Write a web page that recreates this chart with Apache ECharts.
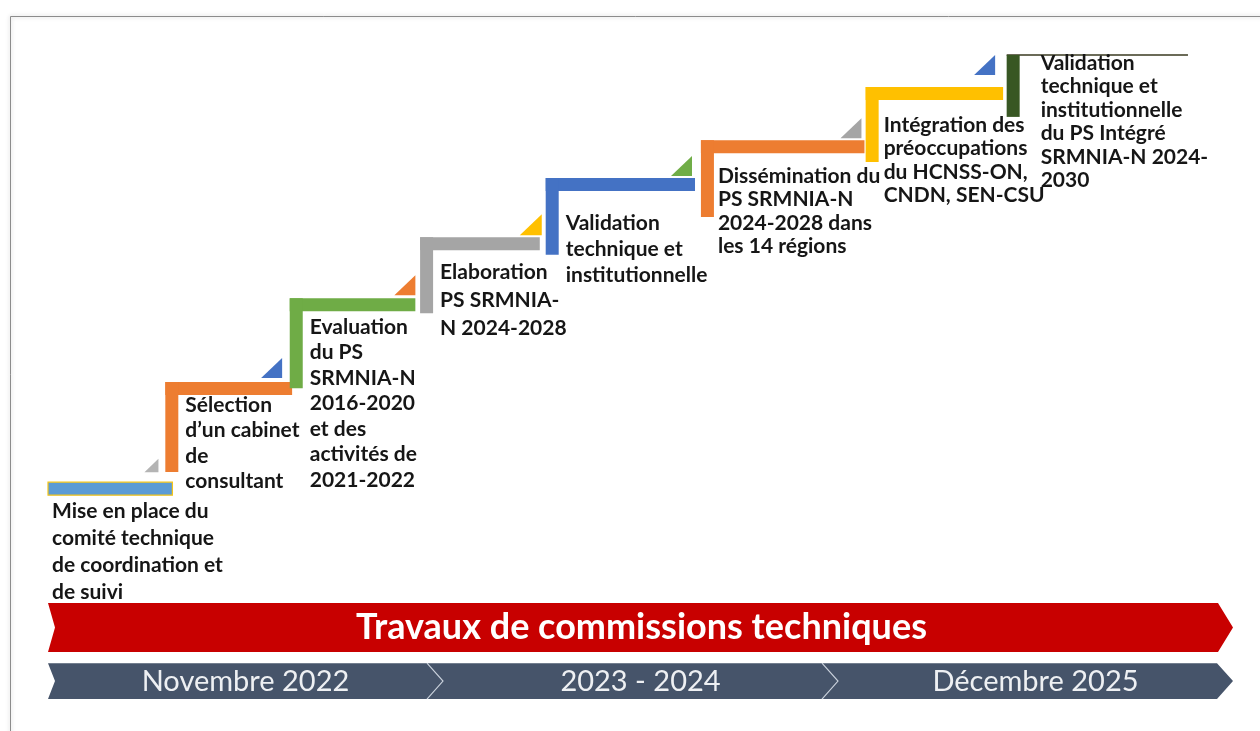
<!DOCTYPE html>
<html>
<head>
<meta charset="utf-8">
<script src="https://cdn.jsdelivr.net/npm/echarts@6/dist/echarts.min.js"></script>
<style>
html, body { margin: 0; padding: 0; background: #fff; }
#container { width: 1260px; height: 731px; }
</style>
</head>
<body>
<div id="container"></div>
<script>
// les étapes de l'escalier
var stepLabels = [
    'Mise en place du\ncomité technique\nde coordination et\nde suivi',
    'Sélection\nd\u2019un cabinet\nde\nconsultant',
    'Evaluation\ndu PS\nSRMNIA-N\n2016-2020\net des\nactivités de\n2021-2022',
    'Elaboration\nPS SRMNIA-\nN 2024-2028',
    'Validation\ntechnique et\ninstitutionnelle',
    'Dissémination du\nPS SRMNIA-N\n2024-2028 dans\nles 14 régions',
    'Intégration des\npréoccupations\ndu HCNSS-ON,\nCNDN, SEN-CSU',
    'Validation\ntechnique et\ninstitutionnelle\ndu PS Intégré\nSRMNIA-N 2024-\n2030'
];
// avancement sur la frise (%) : début et fin de chaque marche
var stepStart = [0, 9.9, 20.4, 31.4, 42.0, 55.1, 69.0, 80.9];
var stepEnd = [10.5, 20.6, 31.0, 41.5, 54.6, 68.9, 80.6, 96.2];
// hauteur de chaque marche (%)
var stepLevel = [2.7, 25.5, 44.6, 58.5, 72.0, 80.6, 92.7, 100];
// hauteur de la contremarche (%)
var stepRiser = [0, 20.5, 20.5, 17.3, 17.5, 17.5, 17.1, 14.1];

var bannerTitle = 'Travaux de commissions techniques';
var periods = ['Novembre 2022', '2023 - 2024', 'Décembre 2025'];

// couleurs
var stepColors = ['#5B9BD5', '#ED7D31', '#6FAC46', '#A5A5A5', '#4472C4', '#ED7D31', '#FFC000', '#385723'];
var markColors = ['#B4B4B4', '#4472C4', '#ED7D31', '#FFC000', '#70AD47', '#A5A5A5', '#4472C4'];

// mise en page des petits triangles et des textes (px)
var markDx = [-14, -10, 0, 2, -3, -3, -8];
var markDy = [-10, -4, -3, -2, -2, -2, -12];
var markSize = [14, 21, 21, 22, 21, 21, 21];
var labelDx = [4, 20, 20, 20, 20, 17, 18, 34];
var labelDy = [15.5, 10, 16, 21, 32, 24, 26, -4];
var labelLH = [27, 25.5, 25.5, 28, 26, 23.5, 23.5, 23.5];

var stepData = [];
for (var i = 0; i < stepLabels.length; i++) {
    stepData.push([stepStart[i], stepEnd[i], stepLevel[i], stepRiser[i]]);
}

var BAR = 13;

function renderStep(params, api) {
    var i = params.dataIndex;
    var top = api.coord([api.value(0), api.value(2)]);
    var end = api.coord([api.value(1), api.value(2)]);
    var foot = api.coord([api.value(0), api.value(2) - api.value(3)]);
    var children = [];
    var last = i === stepLabels.length - 1;

    // marche
    children.push({
        type: 'rect',
        shape: { x: top[0], y: last ? top[1] - 1 : top[1], width: end[0] - top[0], height: last ? 2 : BAR },
        style: {
            fill: last ? '#6B6B58' : stepColors[i],
            stroke: i === 0 ? '#F5C518' : null,
            lineWidth: 1.2
        }
    });
    // contremarche
    if (api.value(3) > 0) {
        children.push({
            type: 'rect',
            shape: { x: top[0], y: top[1], width: BAR, height: foot[1] - top[1] },
            style: { fill: stepColors[i] }
        });
    }
    // triangle
    if (!last) {
        var r = end[0] + markDx[i];
        var b = top[1] + markDy[i];
        var s = markSize[i];
        children.push({
            type: 'polygon',
            shape: { points: [[r - s, b], [r, b], [r, b - s * 0.95]] },
            style: { fill: markColors[i] }
        });
    }
    // texte
    children.push({
        type: 'text',
        x: top[0] + labelDx[i],
        y: top[1] + labelDy[i],
        style: {
            text: stepLabels[i],
            fill: '#161616',
            fontFamily: 'Lato',
            fontWeight: 'bold',
            fontSize: 21,
            lineHeight: labelLH[i],
            align: 'left',
            verticalAlign: 'top'
        }
    });
    return { type: 'group', children: children };
}

function renderTitle(params, api) {
    var p0 = api.coord([api.value(0), 100]);
    var p1 = api.coord([api.value(1), 49.5]);
    var mid = (p0[1] + p1[1]) / 2;
    return {
        type: 'group',
        children: [{
            type: 'polygon',
            shape: { points: [[p0[0], p0[1]], [p1[0] - 15, p0[1]], [p1[0], mid], [p1[0] - 15, p1[1]], [p0[0], p1[1]], [p0[0] + 7, mid]] },
            style: { fill: '#C80000' }
        }, {
            type: 'text',
            x: (p0[0] + p1[0]) / 2 + 1,
            y: mid,
            style: {
                text: bannerTitle,
                fill: '#FFFFFF',
                fontFamily: 'Lato',
                fontWeight: 'bold',
                fontSize: 36,
                align: 'center',
                verticalAlign: 'middle'
            }
        }]
    };
}

function renderPeriod(params, api) {
    var i = params.dataIndex;
    var p0 = api.coord([api.value(0), 38]);
    var p1 = api.coord([api.value(1), 1]);
    var mid = (p0[1] + p1[1]) / 2;
    var tip = 16;
    var notch = i === 0 ? 7 : tip;
    var children = [{
        type: 'polygon',
        shape: { points: [[p0[0] - (i === 0 ? 0 : tip), p0[1]], [p1[0] - tip, p0[1]], [p1[0], mid], [p1[0] - tip, p1[1]], [p0[0] - (i === 0 ? 0 : tip), p1[1]], [p0[0] + (i === 0 ? notch : 0), mid]] },
        style: { fill: '#46546A' }
    }, {
        type: 'text',
        x: (p0[0] + p1[0]) / 2,
        y: mid + 1,
        style: {
            text: periods[i],
            fill: '#EEF0F3',
            fontFamily: 'Lato',
            fontSize: 29,
            align: 'center',
            verticalAlign: 'middle'
        }
    }];
    if (i > 0) {
        children.push({
            type: 'polyline',
            shape: { points: [[p0[0] - tip, p0[1]], [p0[0], mid], [p0[0] - tip, p1[1]]] },
            style: { stroke: 'rgba(215,222,232,0.85)', lineWidth: 1.2, fill: null }
        });
    }
    return { type: 'group', children: children };
}

var periodData = [];
for (var k = 0; k < periods.length; k++) {
    periodData.push([k, k + 1]);
}

var myChart = echarts.init(document.getElementById('container'));
var option = {
    animation: false,
    backgroundColor: '#FFFFFF',
    graphic: [{
        type: 'rect',
        left: 8,
        top: 14,
        shape: { width: 1262, height: 730 },
        style: { fill: null, stroke: '#8C8C8C', lineWidth: 1, shadowBlur: 4, shadowColor: 'rgba(0,0,0,0.25)' },
        silent: true
    }],
    grid: [
        { left: 48, right: 27, top: 55, bottom: 237 },
        { left: 48, right: 27, top: 603, bottom: 31 }
    ],
    xAxis: [
        { gridIndex: 0, type: 'value', min: 0, max: 100, show: false },
        { gridIndex: 1, type: 'value', min: 0, max: 3, show: false }
    ],
    yAxis: [
        { gridIndex: 0, type: 'value', min: 0, max: 100, show: false },
        { gridIndex: 1, type: 'value', min: 0, max: 100, show: false }
    ],
    series: [{
        type: 'custom',
        xAxisIndex: 0,
        yAxisIndex: 0,
        renderItem: renderStep,
        data: stepData
    }, {
        type: 'custom',
        xAxisIndex: 1,
        yAxisIndex: 1,
        renderItem: renderTitle,
        data: [[0, 3]]
    }, {
        type: 'custom',
        xAxisIndex: 1,
        yAxisIndex: 1,
        renderItem: renderPeriod,
        data: periodData
    }]
};
myChart.setOption(option);
</script>
</body>
</html>
